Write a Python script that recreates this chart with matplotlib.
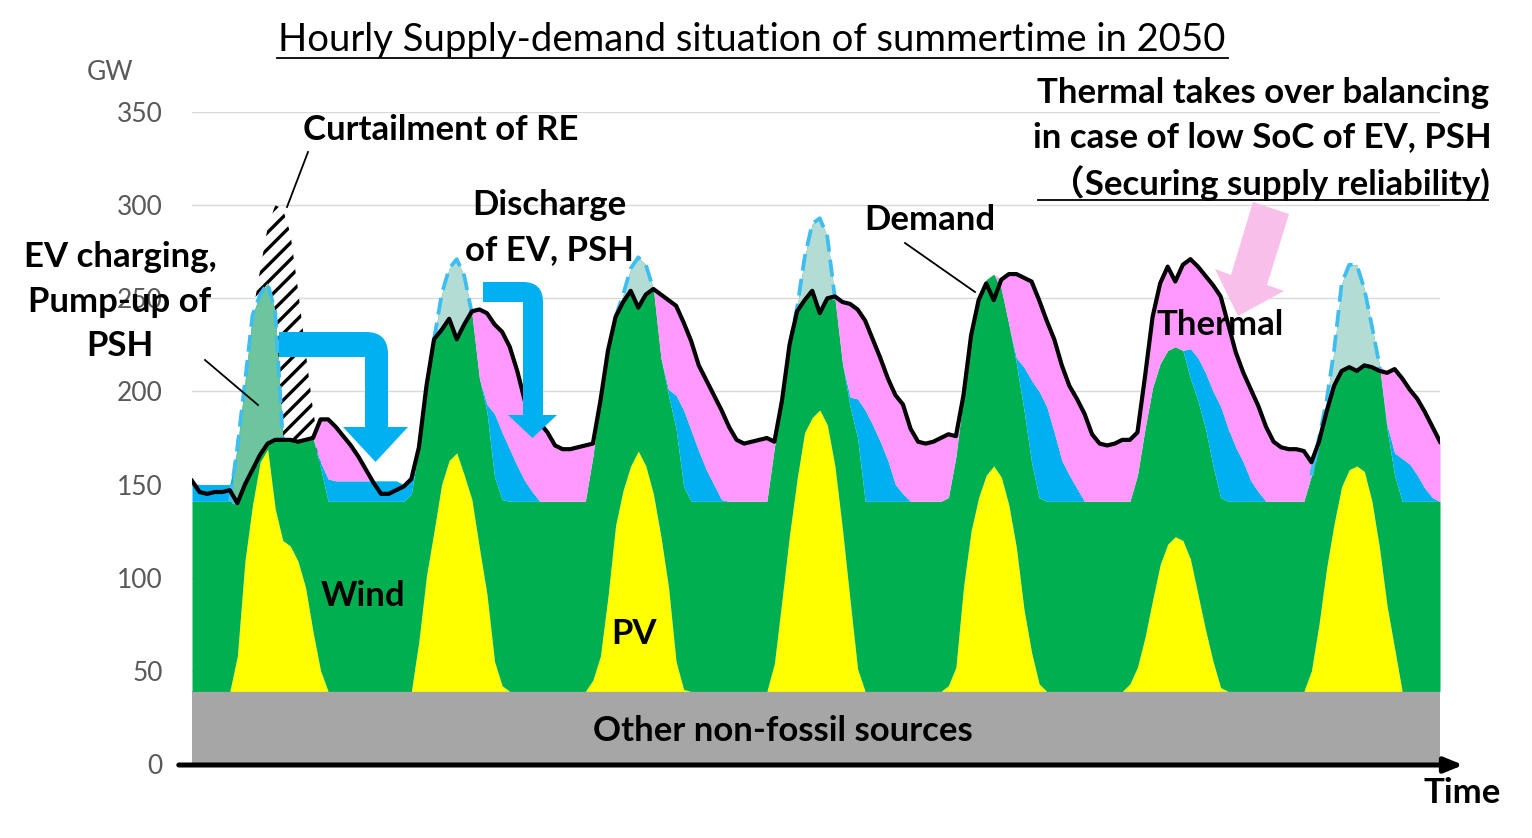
import numpy as np
import matplotlib.pyplot as plt
from matplotlib.patches import Polygon, PathPatch
from matplotlib.path import Path

plt.rcParams['font.family'] = ['Lato', 'Noto Sans CJK JP', 'DejaVu Sans']
plt.rcParams['hatch.linewidth'] = 2.4

# hourly values (GW), 7 days
other_gw = 39
pv_gw = [0, 0, 0, 0, 0, 0, 19, 70, 100, 123, 130, 98, 81, 78, 70, 56, 32, 11, 0, 0, 0, 0, 0, 0,
         0, 0, 0, 0, 0, 0, 27, 62, 86, 111, 124, 128, 116, 103, 77, 52, 16, 3, 0, 0, 0, 0, 0, 0,
         0, 0, 0, 0, 0, 6, 19, 51, 89, 108, 121, 129, 121, 106, 83, 56, 16, 1, 0, 0, 0, 0, 0, 0,
         0, 0, 0, 0, 0, 15, 49, 84, 114, 139, 147, 151, 143, 121, 87, 49, 12, 0, 0, 0, 0, 0, 0, 0,
         0, 0, 0, 0, 3, 13, 56, 86, 104, 116, 121, 115, 100, 77, 44, 21, 4, 0, 0, 0, 0, 0, 0, 0,
         0, 0, 0, 0, 4, 13, 29, 49, 68, 79, 83, 81, 71, 52, 33, 16, 2, 0, 0, 0, 0, 0, 0, 0,
         0, 0, 0, 0, 11, 36, 66, 90, 110, 119, 121, 118, 102, 77, 46, 23, 0, 0, 0, 0, 0, 0]
# other + PV + wind (top of the green area)
re_total_gw = [141, 141, 141, 141, 141, 141, 170, 205, 241, 252, 258, 243, 175, 174, 174, 175, 175, 159, 141, 141, 141, 141, 141, 141,
               141, 141, 141, 141, 141, 145, 170, 203, 228, 252, 266, 271, 262, 242, 207, 189, 154, 142, 141, 141, 141, 141, 141, 141,
               141, 141, 141, 141, 141, 165, 196, 222, 240, 252, 266, 272, 268, 255, 218, 198, 180, 149, 141, 141, 141, 141, 141, 141,
               141, 141, 141, 141, 141, 170, 195, 225, 245, 272, 290, 293, 283, 250, 215, 192, 175, 141, 141, 141, 141, 141, 141, 141,
               141, 141, 141, 141, 143, 165, 198, 230, 250, 260, 263, 255, 236, 215, 190, 162, 143, 141, 141, 141, 141, 141, 141, 141,
               141, 141, 141, 141, 141, 155, 180, 202, 215, 222, 224, 222, 207, 195, 180, 160, 143, 141, 141, 141, 141, 141, 141, 141,
               141, 141, 141, 141, 155, 175, 195, 222, 258, 268, 268, 255, 235, 214, 180, 155, 141, 141, 141, 141, 141, 141]
discharge_gw = [9, 9, 9, 9, 9, 9, 0, 0, 0, 0, 0, 0, 0, 0, 0, 0, 0, 3, 12, 11, 11, 11, 11, 11,
                11, 11, 11, 11, 9, 8, 0, 0, 0, 0, 0, 0, 0, 0, 0, 4, 34, 36, 28, 19, 11, 5, 0, 0,
                0, 0, 0, 0, 0, 0, 0, 0, 0, 0, 0, 0, 0, 0, 0, 3, 18, 41, 38, 27, 17, 9, 1, 0,
                0, 0, 0, 0, 0, 0, 0, 0, 0, 0, 0, 0, 0, 0, 0, 5, 21, 49, 41, 32, 22, 9, 4, 0,
                0, 0, 0, 0, 0, 0, 0, 0, 0, 0, 0, 0, 0, 3, 23, 44, 57, 51, 37, 22, 14, 7, 0, 0,
                0, 0, 0, 0, 0, 0, 0, 0, 0, 0, 0, 0, 16, 23, 30, 40, 49, 39, 29, 21, 11, 5, 0, 0,
                0, 0, 0, 0, 0, 0, 0, 0, 0, 0, 0, 0, 0, 0, 2, 12, 23, 20, 14, 7, 2, 0]
demand_gw = [152, 146, 145, 146, 146, 147, 140, 150, 158, 166, 172, 174, 174, 174, 173, 174, 175, 185, 185, 181, 176, 171, 165, 158,
             151, 145, 145, 147, 149, 153, 170, 203, 228, 233, 239, 228, 236, 243, 244, 242, 236, 232, 224, 211, 195, 188, 183, 178,
             171, 169, 169, 170, 171, 172, 195, 222, 240, 248, 254, 245, 252, 255, 252, 249, 246, 237, 227, 214, 206, 198, 190, 181,
             174, 172, 173, 174, 175, 173, 195, 225, 243, 249, 254, 242, 250, 251, 248, 247, 244, 238, 228, 218, 207, 198, 193, 180,
             173, 172, 173, 175, 177, 176, 198, 230, 249, 258, 249, 260, 263, 263, 261, 259, 249, 238, 228, 214, 203, 196, 188, 177,
             172, 171, 172, 174, 174, 178, 208, 240, 258, 267, 259, 268, 271, 267, 262, 257, 251, 236, 221, 210, 201, 192, 181, 173,
             170, 169, 169, 168, 162, 173, 189, 203, 211, 213, 211, 214, 213, 211, 210, 212, 207, 201, 196, 189, 181, 173]
curtail_hours = [8, 9, 10, 11, 12, 13, 14, 15, 16, 17]
curtail_top_gw = [241, 265, 288, 300, 298, 285, 255, 222, 190, 165]
charge_hours = [(5, 12), (32, 37), (56, 61), (79, 85), (148, 157)]
y_ticks = [0, 50, 100, 150, 200, 250, 300, 350]

hours = np.arange(len(demand_gw))
pv = np.array(pv_gw)
re_total = np.array(re_total_gw)
discharge = np.array(discharge_gw)
demand = np.array(demand_gw)
other = np.full(len(hours), other_gw)
pv_top = other + pv
storage_top = re_total + discharge
thermal_top = np.maximum(demand, storage_top)

W, H = 1532, 838
fig = plt.figure(figsize=(W / 100, H / 100), dpi=100)
ax = fig.add_axes([192 / W, (H - 764) / H, 1248 / W, (764 - 112) / H])

# curtailed RE (hatched, behind everything)
ct = np.array(curtail_top_gw)
ax.fill_between(curtail_hours, re_total[curtail_hours], ct, facecolor='white',
                edgecolor='black', hatch='//', linewidth=0, zorder=1)

ax.fill_between(hours, 0, other, color='#A6A6A6', lw=0, zorder=2)
ax.fill_between(hours, other, pv_top, color='#FFFF00', lw=0, zorder=2)
ax.fill_between(hours, pv_top, re_total, color='#00B050', lw=0, zorder=2)
ax.fill_between(hours, re_total, storage_top, color='#00B0F0', lw=0, zorder=2)
ax.fill_between(hours, storage_top, thermal_top, color='#FF99FF', lw=0, zorder=2)

# EV charging / pump-up (between demand and RE supply)
teal = ['#6DC59E', '#B3DDD4', '#B3DDD4', '#B3DDD4', '#B3DDD4']
for (s, e), c in zip(charge_hours, teal):
    h = hours[s:e + 1]
    up = re_total[s:e + 1]
    lo = np.minimum(demand[s:e + 1], up)
    ax.fill_between(h, lo, up, color=c, lw=0, zorder=3)
    px = np.concatenate([h, h[::-1], h[:1]])
    py = np.concatenate([up, lo[::-1], up[:1]])
    ax.plot(px, py, color='#3DBDF0', lw=2.7, ls=(0, (4.5, 2.2)), zorder=4)

ax.plot(hours, demand, color='black', lw=3.0, zorder=5, solid_joinstyle='round')

ax.set_xlim(0, len(hours) - 1)
ax.set_ylim(0, 350)
ax.set_yticks(y_ticks)
ax.set_xticks([])
ax.grid(axis='y', color='#D9D9D9', lw=1)
ax.set_axisbelow(True)
for sp in ax.spines.values():
    sp.set_visible(False)
ax.tick_params(axis='y', length=0, labelsize=19, labelcolor='#595959', pad=21)

# overlay in pixel coordinates for annotations
ov = fig.add_axes([0, 0, 1, 1], zorder=10)
ov.set_xlim(0, W)
ov.set_ylim(H, 0)
ov.axis('off')
ov.patch.set_alpha(0)

# x axis arrow
ov.annotate('', xy=(1466, 765), xytext=(176, 765),
            arrowprops=dict(arrowstyle='-|>,head_length=1.1,head_width=0.45', color='black', lw=3.6))

# blue bent arrows
def bent_arrow(x0, y_top, y_bot, xv0, xv1, y_base, hx0, hx1, y_tip, r):
    verts = [(x0, y_top), (xv1 - r, y_top), (xv1, y_top), (xv1, y_top + r),
             (xv1, y_base), (hx1, y_base), ((hx0 + hx1) / 2, y_tip), (hx0, y_base),
             (xv0, y_base), (xv0, y_bot), (x0, y_bot), (x0, y_top)]
    codes = [Path.MOVETO, Path.LINETO, Path.CURVE3, Path.CURVE3,
             Path.LINETO, Path.LINETO, Path.LINETO, Path.LINETO,
             Path.LINETO, Path.LINETO, Path.LINETO, Path.CLOSEPOLY]
    ov.add_patch(PathPatch(Path(verts, codes), facecolor='#00B0F0', lw=0))

bent_arrow(279, 332, 357, 365, 388, 427, 343, 408, 462, 22)
bent_arrow(483, 282, 302, 523, 543, 415, 508, 557, 438, 20)

# pink arrow
ov.add_patch(Polygon([(1253, 202), (1289, 214), (1267, 285), (1284, 291), (1238, 316),
                      (1215, 269), (1231, 275)], closed=True, facecolor='#F8BFEA', lw=0))

# leader lines
ov.plot([308, 287], [152, 207], color='black', lw=1.3)
ov.plot([205, 258], [360, 405], color='black', lw=1.3)
ov.plot([905, 975], [243, 292], color='black', lw=1.3)

bold = dict(fontsize=25, fontweight='bold', ha='center', va='center', color='black')
ov.text(752, 40, 'Hourly Supply-demand situation of summertime in 2050', fontsize=27.5,
        ha='center', va='center')
ov.plot([277, 1228], [58, 58], color='black', lw=1.3)
ov.text(110, 72, 'GW', fontsize=19, color='#595959', ha='center', va='center')
ov.text(441, 130, 'Curtailment of RE', **bold)
ov.text(549, 205, 'Discharge', **bold)
ov.text(549, 250, 'of EV, PSH', **bold)
ov.text(120, 257, 'EV charging,', **bold)
ov.text(120, 302, 'Pump-up of', **bold)
ov.text(120, 346, 'PSH', **bold)
ov.text(930, 220, 'Demand', **bold)
ov.text(1263, 93, 'Thermal takes over balancing', **bold)
ov.text(1262, 137, 'in case of low SoC of EV, PSH', **bold)
ov.text(1270, 183, '（Securing supply reliability)', **bold)
ov.plot([1038, 1488], [200, 200], color='black', lw=1.3)
ov.text(1220, 325, 'Thermal', **bold)
ov.text(363, 596, 'Wind', **bold)
ov.text(634, 634, 'PV', **bold)
ov.text(783, 731, 'Other non-fossil sources', **bold)
ov.text(1462, 793, 'Time', **bold)

fig.savefig('out.png', dpi=100)
